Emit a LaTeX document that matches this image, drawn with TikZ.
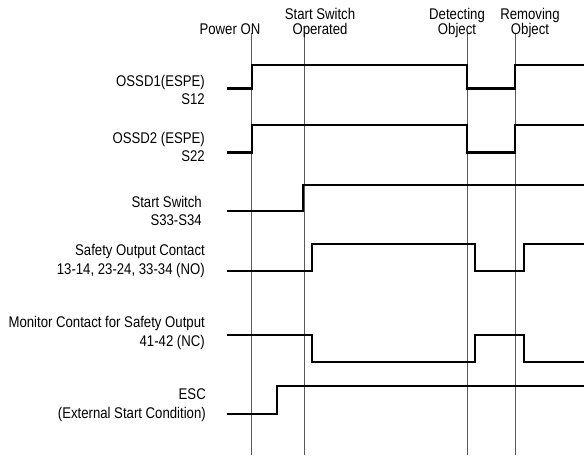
\documentclass[tikz,border=0pt]{standalone}
\usepackage{fontspec}
\setmainfont[FakeStretch=0.85]{Liberation Sans}
\begin{document}
\begin{tikzpicture}[x=1pt,y=-1pt,
  lbl/.style={font=\fontsize{15.5}{18.5}\selectfont, align=right, anchor=base east, inner sep=0pt},
  toplbl/.style={font=\fontsize{15.5}{15.5}\selectfont, align=center, anchor=base, inner sep=0pt},
  sig/.style={line width=2.3pt, line join=miter, line cap=butt},
  vline/.style={line width=0.9pt, black!65}]
\useasboundingbox (0,0) rectangle (584,457);
% vertical event lines
\coordinate (p1) at (251,33); \coordinate (p1b) at (251,455);
\coordinate (p2) at (304,33); \coordinate (p2b) at (304,455);
\coordinate (p3) at (467,33); \coordinate (p3b) at (467,455);
\coordinate (p4) at (515,33); \coordinate (p4b) at (515,455);
\draw[vline] (p1) -- (p1b);
\draw[vline] (p2) -- (p2b);
\draw[vline] (p3) -- (p3b);
\draw[vline] (p4) -- (p4b);
% top labels
\node[toplbl] (tpow) at (230,35) {Power ON};
\node[toplbl] (tss) at (320,35) {Start Switch\\Operated};
\node[toplbl] (tdet) at (457,35) {Detecting\\Object};
\node[toplbl] (trem) at (530,35) {Removing\\Object};
% left labels
\node[lbl] (l1) at (205,105) {OSSD1(ESPE)\\S12};
\node[lbl] (l2) at (205,162) {OSSD2 (ESPE)\\S22};
\node[lbl] (l3) at (202,226) {Start Switch\\S33-S34};
\node[lbl] (l4) at (205,274.5) {Safety Output Contact\\13-14, 23-24, 33-34 (NO)};
\node[lbl] (l5) at (205,346) {Monitor Contact for Safety Output\\41-42 (NC)};
\node[lbl] (l6) at (206,418) {ESC\\(External Start Condition)};
% signals
\draw[sig] (227,88.5) -- (252,88.5) -- (252,65) -- (467,65) -- (467,88.5) -- (515,88.5) -- (515,65) -- (584,65);
\draw[sig] (227,152.5) -- (252,152.5) -- (252,125) -- (467,125) -- (467,152.5) -- (515,152.5) -- (515,125) -- (584,125);
\draw[sig] (227,211) -- (303,211) -- (303,185) -- (584,185);
\draw[sig] (227,271) -- (312,271) -- (312,244) -- (475,244) -- (475,271) -- (524,271) -- (524,244) -- (584,244);
\draw[sig] (227,335) -- (312,335) -- (312,362) -- (475,362) -- (475,335) -- (524,335) -- (524,362) -- (584,362);
\draw[sig] (227,414) -- (277,414) -- (277,386) -- (584,386);
\end{tikzpicture}
\end{document}
